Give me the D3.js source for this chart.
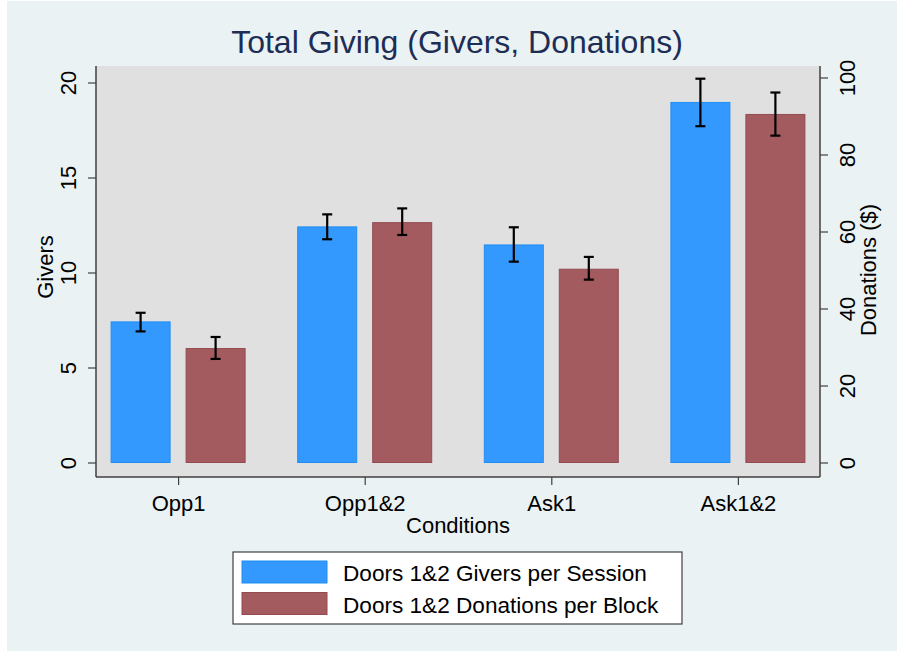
<!DOCTYPE html>
<html>
<head>
<meta charset="utf-8">
<script src="https://cdn.jsdelivr.net/npm/d3@7"></script>
<style>
  body { margin: 0; background: #ffffff; }
  svg text { font-family: "Liberation Sans", Arial, sans-serif; }
</style>
</head>
<body>
<div id="chart"></div>
<script>
// Total giving: givers (left axis) and donations (right axis) by condition
const conditions = ["Opp1", "Opp1&2", "Ask1", "Ask1&2"];
const givers = [7.4, 12.4, 11.45, 18.95];
const giversLo = [6.9, 11.75, 10.57, 17.7];
const giversHi = [7.88, 13.06, 12.38, 20.2];
const donations = [29.6, 62.3, 50.2, 90.4];
const donationsLo = [26.9, 59.1, 47.5, 84.9];
const donationsHi = [32.6, 66.0, 53.4, 96.1];
const giversTicks = [0, 5, 10, 15, 20];
const donationTicks = [0, 20, 40, 60, 80, 100];
const legendLabels = ["Doors 1&2 Givers per Session", "Doors 1&2 Donations per Block"];

const W = 899, H = 652;
const plot = { left: 96, right: 820, top: 66, bottom: 477 };
const blue = "#3399ff", red = "#a45b5f";
const fs = "22px";

const svg = d3.select("#chart").append("svg")
    .attr("width", W)
    .attr("height", H);

// outer background
svg.append("rect")
    .attr("x", 7).attr("y", 1)
    .attr("width", 890).attr("height", 650)
    .attr("fill", "#eaf2f3");

// plot region
svg.append("rect")
    .attr("x", plot.left).attr("y", plot.top)
    .attr("width", plot.right - plot.left)
    .attr("height", plot.bottom - plot.top)
    .attr("fill", "#e0e0e0");

// Scales
const x = d3.scalePoint()
    .domain(conditions)
    .range([plot.left, plot.right])
    .padding(0.44);

const yL = d3.scaleLinear().domain([0, 20]).range([462.5, 82.5]);
const yR = d3.scaleLinear().domain([0, 100]).range([462.5, 77.5]);

const barW = 59, offset = 37.5;

// bars
const giverBars = conditions.map((c, i) => ({ c, v: givers[i], lo: giversLo[i], hi: giversHi[i] }));
const donationBars = conditions.map((c, i) => ({ c, v: donations[i], lo: donationsLo[i], hi: donationsHi[i] }));

svg.selectAll(".bar-givers")
    .data(giverBars)
    .enter().append("rect")
    .attr("class", "bar-givers")
    .attr("x", d => x(d.c) - offset - barW / 2)
    .attr("y", d => yL(d.v))
    .attr("width", barW)
    .attr("height", d => yL(0) - yL(d.v))
    .attr("fill", blue)
    .attr("stroke", "#1f8ef5")
    .attr("stroke-width", 1);

svg.selectAll(".bar-donations")
    .data(donationBars)
    .enter().append("rect")
    .attr("class", "bar-donations")
    .attr("x", d => x(d.c) + offset - barW / 2)
    .attr("y", d => yR(d.v))
    .attr("width", barW)
    .attr("height", d => yR(0) - yR(d.v))
    .attr("fill", red)
    .attr("stroke", "#944b50")
    .attr("stroke-width", 1);

// error bars
function errorBars(data, scale, dx, cls) {
    const g = svg.selectAll("." + cls)
        .data(data)
        .enter().append("g")
        .attr("class", cls)
        .attr("stroke", "#000")
        .attr("stroke-width", 2.2);
    g.append("line")
        .attr("x1", d => x(d.c) + dx).attr("x2", d => x(d.c) + dx)
        .attr("y1", d => scale(d.lo)).attr("y2", d => scale(d.hi));
    g.append("line")
        .attr("x1", d => x(d.c) + dx - 5).attr("x2", d => x(d.c) + dx + 5)
        .attr("y1", d => scale(d.hi)).attr("y2", d => scale(d.hi));
    g.append("line")
        .attr("x1", d => x(d.c) + dx - 5).attr("x2", d => x(d.c) + dx + 5)
        .attr("y1", d => scale(d.lo)).attr("y2", d => scale(d.lo));
}
errorBars(giverBars, yL, -offset, "err-givers");
errorBars(donationBars, yR, offset, "err-donations");

const axisColor = "#404040";

// left axis
const leftAxis = svg.append("g")
    .attr("transform", `translate(${plot.left},0)`)
    .call(d3.axisLeft(yL).tickValues(giversTicks).tickSize(8).tickPadding(8));
leftAxis.select(".domain").attr("d", `M0,${plot.top}V${plot.bottom}`).attr("stroke", axisColor).attr("stroke-width", 1.5);
leftAxis.selectAll(".tick line").attr("stroke", axisColor).attr("stroke-width", 1.2);
leftAxis.selectAll(".tick text")
    .attr("transform", "rotate(-90)")
    .attr("x", 0).attr("y", -28)
    .attr("dy", "0.35em")
    .attr("text-anchor", "middle")
    .style("font-size", fs)
    .attr("fill", "#000");

// right axis
const rightAxis = svg.append("g")
    .attr("transform", `translate(${plot.right},0)`)
    .call(d3.axisRight(yR).tickValues(donationTicks).tickSize(8).tickPadding(8));
rightAxis.select(".domain").attr("d", `M0,${plot.top}V${plot.bottom}`).attr("stroke", axisColor).attr("stroke-width", 1.5);
rightAxis.selectAll(".tick line").attr("stroke", axisColor).attr("stroke-width", 1.2);
rightAxis.selectAll(".tick text")
    .attr("transform", "rotate(-90)")
    .attr("x", 0).attr("y", 27)
    .attr("dy", "0.35em")
    .attr("text-anchor", "middle")
    .style("font-size", fs)
    .attr("fill", "#000");

// bottom axis
const bottomAxis = svg.append("g")
    .attr("transform", `translate(0,${plot.bottom})`)
    .call(d3.axisBottom(x).tickSize(8).tickPadding(6));
bottomAxis.select(".domain").attr("d", `M${plot.left},0H${plot.right}`).attr("stroke", axisColor).attr("stroke-width", 1.5);
bottomAxis.selectAll(".tick line").attr("stroke", axisColor).attr("stroke-width", 1.2);
bottomAxis.selectAll(".tick text")
    .attr("y", 0).attr("dy", "34px")
    .style("font-size", fs)
    .attr("fill", "#000");

// axis titles
svg.append("text")
    .attr("transform", "translate(45,267) rotate(-90)")
    .attr("text-anchor", "middle")
    .attr("dy", "0.35em")
    .style("font-size", fs)
    .text("Givers");

svg.append("text")
    .attr("transform", "translate(868,270) rotate(-90)")
    .attr("text-anchor", "middle")
    .attr("dy", "0.35em")
    .style("font-size", fs)
    .text("Donations ($)");

svg.append("text")
    .attr("x", 458).attr("y", 533)
    .attr("text-anchor", "middle")
    .style("font-size", fs)
    .text("Conditions");

// title
svg.append("text")
    .attr("x", 457).attr("y", 53)
    .attr("text-anchor", "middle")
    .style("font-size", "32px")
    .attr("fill", "#1e2d55")
    .text("Total Giving (Givers, Donations)");

// legend
const legend = svg.append("g");
legend.append("rect")
    .attr("x", 233).attr("y", 552)
    .attr("width", 449).attr("height", 72)
    .attr("fill", "#fff")
    .attr("stroke", "#404040")
    .attr("stroke-width", 1.2);

const items = legend.selectAll(".item")
    .data(legendLabels)
    .enter().append("g")
    .attr("class", "item")
    .attr("transform", (d, i) => `translate(0,${i * 31.5})`);
items.append("rect")
    .attr("x", 242).attr("y", 561)
    .attr("width", 85).attr("height", 22)
    .attr("fill", (d, i) => i === 0 ? blue : red)
    .attr("stroke", (d, i) => i === 0 ? "#1f8ef5" : "#944b50");
items.append("text")
    .attr("x", 343).attr("y", 581)
    .style("font-size", "22.6px")
    .text(d => d);
</script>
</body>
</html>
